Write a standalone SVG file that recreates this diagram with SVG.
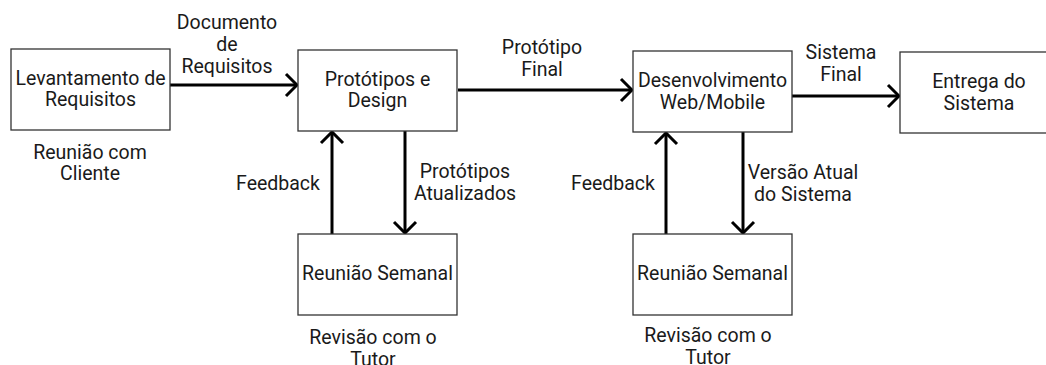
<svg xmlns="http://www.w3.org/2000/svg" width="1046" height="365" viewBox="0 0 1046 365">
<style>
.box{fill:#ffffff;stroke:#333333;stroke-width:1.3}
.lbl{font-family:Roboto,"Liberation Sans",sans-serif;font-size:19.5px;fill:#1a1a1a;text-anchor:middle}
.edge{fill:none;stroke:#000000;stroke-width:3}
</style>
<defs>
<marker id="arr" viewBox="-14 -14 16 28" refX="0" refY="0" markerWidth="16" markerHeight="28" markerUnits="userSpaceOnUse" orient="auto">
<path d="M -11 -11 L 0 0 L -11 11" fill="none" stroke="#000000" stroke-width="3"/>
</marker>
</defs>
<rect width="1046" height="365" fill="#ffffff"/>
<g id="connectors">
<line class="edge" x1="170" y1="85" x2="297" y2="85" marker-end="url(#arr)"/>
<line class="edge" x1="458" y1="90" x2="632" y2="90" marker-end="url(#arr)"/>
<line class="edge" x1="792" y1="96" x2="899" y2="96" marker-end="url(#arr)"/>
<line class="edge" x1="332" y1="234" x2="332" y2="132" marker-end="url(#arr)"/>
<line class="edge" x1="405" y1="131" x2="405" y2="233" marker-end="url(#arr)"/>
<line class="edge" x1="666" y1="234" x2="666" y2="133" marker-end="url(#arr)"/>
<line class="edge" x1="743" y1="132" x2="743" y2="233" marker-end="url(#arr)"/>
<text class="lbl" x="227" y="29">Documento</text>
<text class="lbl" x="227" y="51">de</text>
<text class="lbl" x="227" y="73">Requisitos</text>
<text class="lbl" x="542" y="54">Protótipo</text>
<text class="lbl" x="542" y="76">Final</text>
<text class="lbl" x="841" y="59">Sistema</text>
<text class="lbl" x="841" y="81">Final</text>
<text class="lbl" x="278" y="190">Feedback</text>
<text class="lbl" x="465" y="178">Protótipos</text>
<text class="lbl" x="465" y="200">Atualizados</text>
<text class="lbl" x="613" y="190">Feedback</text>
<text class="lbl" x="803" y="179">Versão Atual</text>
<text class="lbl" x="803" y="201">do Sistema</text>
</g>
<g id="levantamento">
<rect class="box" x="11" y="49" width="159" height="81"/>
<text class="lbl" x="90.5" y="85">Levantamento de</text>
<text class="lbl" x="90.5" y="106">Requisitos</text>
<text class="lbl" x="90" y="159">Reunião com</text>
<text class="lbl" x="90" y="180">Cliente</text>
</g>
<g id="prototipos">
<rect class="box" x="298" y="50" width="159" height="81"/>
<text class="lbl" x="377.5" y="86">Protótipos e</text>
<text class="lbl" x="377.5" y="107">Design</text>
</g>
<g id="desenvolvimento">
<rect class="box" x="633" y="51" width="159" height="81"/>
<text class="lbl" x="712.5" y="87">Desenvolvimento</text>
<text class="lbl" x="712.5" y="109">Web/Mobile</text>
</g>
<g id="entrega">
<rect class="box" x="900" y="52" width="159" height="81"/>
<text class="lbl" x="979" y="88">Entrega do</text>
<text class="lbl" x="979" y="110">Sistema</text>
</g>
<g id="reuniao1">
<rect class="box" x="298" y="234" width="159" height="81"/>
<text class="lbl" x="377.5" y="280">Reunião Semanal</text>
<text class="lbl" x="373" y="344">Revisão com o</text>
<text class="lbl" x="373" y="366">Tutor</text>
</g>
<g id="reuniao2">
<rect class="box" x="633" y="234" width="159" height="81"/>
<text class="lbl" x="712.5" y="280">Reunião Semanal</text>
<text class="lbl" x="708" y="342">Revisão com o</text>
<text class="lbl" x="708" y="364">Tutor</text>
</g>
</svg>
